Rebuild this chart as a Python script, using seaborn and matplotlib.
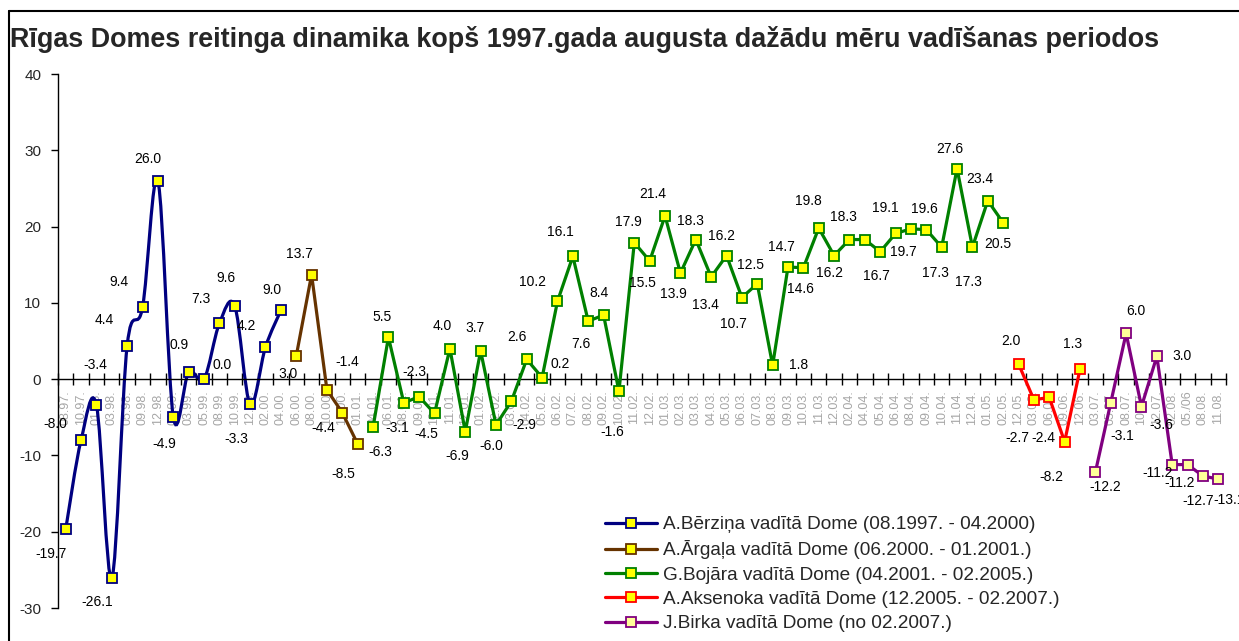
import numpy as np
import pandas as pd
import matplotlib
matplotlib.use("Agg")
import matplotlib.pyplot as plt
import seaborn as sns
from matplotlib.path import Path
from matplotlib.patches import PathPatch
from matplotlib.lines import Line2D

# ---------------- data ----------------
months = ["08.97.", "10.97.", "01.98.", "03.98.", "05.98.", "09.98.", "12.98.", "01.99.",
          "03.99.", "05.99.", "08.99.", "10.99.", "12.99.", "02.00.", "04.00.", "06.00.",
          "08.00.", "10.00.", "12.00.", "01.01.", "04.01.", "06.01.", "08.01.", "09.01.",
          "10.01.", "11.01.", "12.01.", "01.02.", "02.02.", "03.02.", "04.02.", "05.02.",
          "06.02.", "07.02.", "08.02.", "09.02.", "10.02.", "11.02.", "12.02.", "01.03.",
          "02.03.", "03.03.", "04.03.", "05.03.", "06.03.", "07.03.", "08.03.", "09.03.",
          "10.03.", "11.03.", "12.03.", "02.04.", "04.04.", "05.04.", "06.04.", "08.04.",
          "09.04.", "10.04.", "11.04.", "12.04.", "01.05.", "02.05.", "12.05.", "03.06.",
          "06.06.", "09.06.", "12.06.", "03.07.", "05.07.", "08.07.", "10.07.", "12.07.",
          "02.08.", "05./06", "08.08.", "11.08."]

berzins = [-19.7, -8.0, -3.4, -26.1, 4.4, 9.4, 26.0, -4.9, 0.9, 0.0, 7.3, 9.6, -3.3, 4.2, 9.0]
argalis = [3.0, 13.7, -1.4, -4.4, -8.5]
bojars = [-6.3, 5.5, -3.1, -2.3, -4.5, 4.0, -6.9, 3.7, -6.0, -2.9, 2.6, 0.2, 10.2, 16.1,
          7.6, 8.4, -1.6, 17.9, 15.5, 21.4, 13.9, 18.3, 13.4, 16.2, 10.7, 12.5, 1.8, 14.7,
          14.6, 19.8, 16.2, 18.3, 18.3, 16.7, 19.1, 19.7, 19.6, 17.3, 27.6, 17.3, 23.4, 20.5]
aksenoks = [2.0, -2.7, -2.4, -8.2, 1.3]
birks = [-12.2, -3.1, 6.0, -3.6, 3.0, -11.2, -11.2, -12.7, -13.1]

series_names = ["A.Bērziņa vadītā Dome (08.1997. - 04.2000)",
                "A.Ārgaļa vadītā Dome (06.2000. - 01.2001.)",
                "G.Bojāra vadītā Dome (04.2001. - 02.2005.)",
                "A.Aksenoka vadītā Dome (12.2005. - 02.2007.)",
                "J.Birka vadītā Dome (no 02.2007.)"]

title = "Rīgas Domes reitinga dinamika kopš 1997.gada augusta dažādu mēru vadīšanas periodos"

# ---------------- styles ----------------
colors = ["#000080", "#663300", "#008000", "#FF0000", "#800080"]
faces = ["#FFFF00", "#FFFF00", "#FFFF00", "#FFFF00", "#FFFF99"]
smooth = [True, False, False, False, False]

# data-label offsets in pixels (dx right, dy down); None = no label
lab_off = [
    [(-15, 25), (-26, -16), (-1, -40), (-15, 24), (-23, -26), (-24, -25), (-10, -22),
     (-9, 27), (-10, -27), (18, -14), (-18, -24), (-9, -28), (-14, 35), (-19, -21), (-9, -20)],
    [(-8, 18), (-12, -21), (20, -28), (-19, 15), (-14, 30)],
    [(7, 25), (-6, -20), (-7, 25), (-5, -25), (-8, 21), (-8, -23), (-8, 24), (-6, -23),
     (-5, 21), (13, 24), (-10, -22), (18, -14), (-25, -19), (-12, -24), (-7, 23), (-5, -22),
     (-7, 41), (-6, -21), (-7, 22), (-12, -22), (-7, 21), (-5, -19), (-6, 28), (-5, -20),
     (-8, 26), (-7, -19), (26, 0), (-7, -20), (-3, 21), (-10, -27), (-5, 17), (-6, -23),
     None, (-4, 24), (-10, -25), (-8, 23), (-2, -21), (-6, 26), (-7, -20), (-4, 35),
     (-8, -22), (-5, 21)],
    [(-8, -23), (-17, 38), (-6, 41), (-13, 35), (-7, -25)],
    [(10, 15), (12, 33), (10, -22), (20, 18), (25, 0), (-15, 8), (-8, 18), (-5, 25), (11, 21)],
]

W, H = 1239, 641
sns.set_theme(style="white")
plt.rcParams["font.family"] = ["Liberation Sans", "DejaVu Sans"]
plt.rcParams["axes.unicode_minus"] = False

fig = plt.figure(figsize=(W / 100, H / 100), dpi=100)
ax = fig.add_axes([58 / W, 1 - 608 / H, (1226 - 58) / W, (608 - 74) / H])

all_vals = [berzins, argalis, bojars, aksenoks, birks]


def smooth_path(x, y):
    pts = np.column_stack([x, y]).astype(float)
    n = len(pts)
    verts = [pts[0]]
    codes = [Path.MOVETO]
    for i in range(n - 1):
        p0 = pts[i - 1] if i > 0 else pts[i]
        p1 = pts[i]
        p2 = pts[i + 1]
        p3 = pts[i + 2] if i + 2 < n else pts[i + 1]
        verts += [p1 + (p2 - p0) / 6.0, p2 - (p3 - p1) / 6.0, p2]
        codes += [Path.CURVE4] * 3
    return Path(verts, codes)


lw = 2.3
ms = 7
start = 0
for vals, col, fc, sm, offs in zip(all_vals, colors, faces, smooth, lab_off):
    pos = np.arange(start, start + len(vals))
    df = pd.DataFrame({"pos": pos, "value": vals})
    if sm:
        ax.add_patch(PathPatch(smooth_path(pos, vals), facecolor="none",
                               edgecolor=col, lw=lw, zorder=2))
        sns.lineplot(data=df, x="pos", y="value", ax=ax, linestyle="none", marker="s",
                     markersize=ms, markerfacecolor=fc, markeredgecolor=col,
                     markeredgewidth=1.3, zorder=3)
    else:
        sns.lineplot(data=df, x="pos", y="value", ax=ax, color=col, lw=lw, marker="s",
                     markersize=ms, markerfacecolor=fc, markeredgecolor=col,
                     markeredgewidth=1.3, zorder=3)
    for p, v, o in zip(pos, vals, offs):
        if o is None:
            continue
        ax.annotate(f"{v:.1f}", (p, v), xytext=(o[0] * 0.72, -o[1] * 0.72),
                    textcoords="offset points", ha="center", va="center",
                    fontsize=10, color="black", zorder=4)
    start += len(vals)

# axes
ax.set_xlim(-0.5, len(months) - 0.5)
ax.set_ylim(-30, 40)
ax.set_xlabel("")
ax.set_ylabel("")
ax.set_facecolor("none")
ax.spines["top"].set_visible(False)
ax.spines["right"].set_visible(False)
ax.spines["bottom"].set_position(("data", 0))
for s in ["left", "bottom"]:
    ax.spines[s].set_color("black")
    ax.spines[s].set_linewidth(1.0)
    ax.spines[s].set_visible(True)

ax.set_xticks(np.arange(len(months)))
ax.set_xticklabels(months, rotation=90, color="#A6A6A6", fontsize=9)
ax.set_xticks(np.arange(-0.5, len(months), 1.0), minor=True)
ax.tick_params(axis="x", which="major", length=0, pad=8)
ax.tick_params(axis="x", which="minor", direction="inout", length=8, width=1, color="black", bottom=True)
ax.set_yticks(np.arange(-30, 41, 10))
ax.tick_params(axis="y", which="major", direction="out", length=5, width=1, color="black",
               labelsize=11, pad=7, left=True)
for t in ax.get_xticklabels():
    t.set_zorder(1)

# title
fig.text(10 / W, 1 - 47 / H, title, fontsize=19.4, fontweight="bold", ha="left", va="baseline")

# chart border
fig.add_artist(Line2D([8.5 / W, 8.5 / W], [0, 1 - 11 / H], color="black", lw=1.5,
                      transform=fig.transFigure))
fig.add_artist(Line2D([8.5 / W, 1], [1 - 11 / H, 1 - 11 / H], color="black", lw=1.5,
                      transform=fig.transFigure))

# legend
handles = [Line2D([0], [0], color=c, lw=lw, marker="s", markersize=ms, markerfacecolor=f,
                  markeredgecolor=c, markeredgewidth=1.3) for c, f in zip(colors, faces)]
fig.legend(handles, series_names, loc="upper left", bbox_to_anchor=(605 / W, 1 - 516 / H),
           frameon=False, fontsize=13.7, handlelength=2.75, handletextpad=0.28,
           labelspacing=0.37, borderpad=0, borderaxespad=0)

fig.savefig("out.png", dpi=100)
